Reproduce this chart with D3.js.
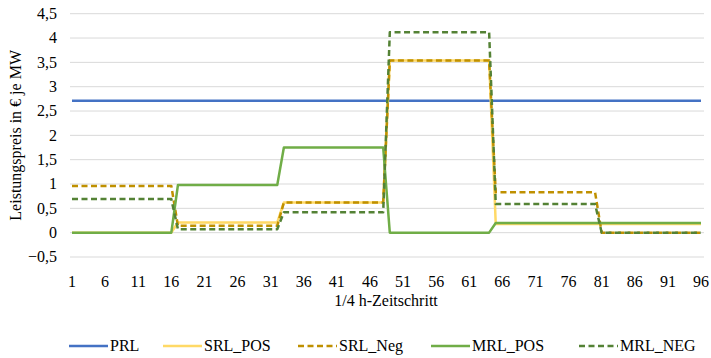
<!DOCTYPE html>
<html>
<head>
<meta charset="utf-8">
<script src="https://cdn.jsdelivr.net/npm/d3@7/dist/d3.min.js"></script>
</head>
<body style="margin:0">
<svg id="chart" width="711" height="358" style="display:block"></svg>
<script>
const categories = [
  1,2,3,4,5,6,7,8,9,10,11,12,13,14,15,16,
  17,18,19,20,21,22,23,24,25,26,27,28,29,30,31,32,
  33,34,35,36,37,38,39,40,41,42,43,44,45,46,47,48,
  49,50,51,52,53,54,55,56,57,58,59,60,61,62,63,64,
  65,66,67,68,69,70,71,72,73,74,75,76,77,78,79,80,
  81,82,83,84,85,86,87,88,89,90,91,92,93,94,95,96
];
const xTickLabels = [1,6,11,16,21,26,31,36,41,46,51,56,61,66,71,76,81,86,91,96];
const yTickValues = [-0.5,0,0.5,1,1.5,2,2.5,3,3.5,4,4.5];

const PRL = [
  2.71,2.71,2.71,2.71,2.71,2.71,2.71,2.71,2.71,2.71,2.71,2.71,2.71,2.71,2.71,2.71,
  2.71,2.71,2.71,2.71,2.71,2.71,2.71,2.71,2.71,2.71,2.71,2.71,2.71,2.71,2.71,2.71,
  2.71,2.71,2.71,2.71,2.71,2.71,2.71,2.71,2.71,2.71,2.71,2.71,2.71,2.71,2.71,2.71,
  2.71,2.71,2.71,2.71,2.71,2.71,2.71,2.71,2.71,2.71,2.71,2.71,2.71,2.71,2.71,2.71,
  2.71,2.71,2.71,2.71,2.71,2.71,2.71,2.71,2.71,2.71,2.71,2.71,2.71,2.71,2.71,2.71,
  2.71,2.71,2.71,2.71,2.71,2.71,2.71,2.71,2.71,2.71,2.71,2.71,2.71,2.71,2.71,2.71
];
const SRL_POS = [
  0,0,0,0,0,0,0,0,0,0,0,0,0,0,0,0,
  0.21,0.21,0.21,0.21,0.21,0.21,0.21,0.21,0.21,0.21,0.21,0.21,0.21,0.21,0.21,0.21,
  0.62,0.62,0.62,0.62,0.62,0.62,0.62,0.62,0.62,0.62,0.62,0.62,0.62,0.62,0.62,0.62,
  3.54,3.54,3.54,3.54,3.54,3.54,3.54,3.54,3.54,3.54,3.54,3.54,3.54,3.54,3.54,3.54,
  0.18,0.18,0.18,0.18,0.18,0.18,0.18,0.18,0.18,0.18,0.18,0.18,0.18,0.18,0.18,0.18,
  0.18,0.18,0.18,0.18,0.18,0.18,0.18,0.18,0.18,0.18,0.18,0.18,0.18,0.18,0.18,0.18
];
const SRL_Neg = [
  0.96,0.96,0.96,0.96,0.96,0.96,0.96,0.96,0.96,0.96,0.96,0.96,0.96,0.96,0.96,0.96,
  0.14,0.14,0.14,0.14,0.14,0.14,0.14,0.14,0.14,0.14,0.14,0.14,0.14,0.14,0.14,0.14,
  0.62,0.62,0.62,0.62,0.62,0.62,0.62,0.62,0.62,0.62,0.62,0.62,0.62,0.62,0.62,0.62,
  3.54,3.54,3.54,3.54,3.54,3.54,3.54,3.54,3.54,3.54,3.54,3.54,3.54,3.54,3.54,3.54,
  0.83,0.83,0.83,0.83,0.83,0.83,0.83,0.83,0.83,0.83,0.83,0.83,0.83,0.83,0.83,0.83,
  0,0,0,0,0,0,0,0,0,0,0,0,0,0,0,0
];
const MRL_POS = [
  0,0,0,0,0,0,0,0,0,0,0,0,0,0,0,0,
  0.98,0.98,0.98,0.98,0.98,0.98,0.98,0.98,0.98,0.98,0.98,0.98,0.98,0.98,0.98,0.98,
  1.75,1.75,1.75,1.75,1.75,1.75,1.75,1.75,1.75,1.75,1.75,1.75,1.75,1.75,1.75,1.75,
  0,0,0,0,0,0,0,0,0,0,0,0,0,0,0,0,
  0.2,0.2,0.2,0.2,0.2,0.2,0.2,0.2,0.2,0.2,0.2,0.2,0.2,0.2,0.2,0.2,
  0.2,0.2,0.2,0.2,0.2,0.2,0.2,0.2,0.2,0.2,0.2,0.2,0.2,0.2,0.2,0.2
];
const MRL_NEG = [
  0.69,0.69,0.69,0.69,0.69,0.69,0.69,0.69,0.69,0.69,0.69,0.69,0.69,0.69,0.69,0.69,
  0.07,0.07,0.07,0.07,0.07,0.07,0.07,0.07,0.07,0.07,0.07,0.07,0.07,0.07,0.07,0.07,
  0.42,0.42,0.42,0.42,0.42,0.42,0.42,0.42,0.42,0.42,0.42,0.42,0.42,0.42,0.42,0.42,
  4.12,4.12,4.12,4.12,4.12,4.12,4.12,4.12,4.12,4.12,4.12,4.12,4.12,4.12,4.12,4.12,
  0.59,0.59,0.59,0.59,0.59,0.59,0.59,0.59,0.59,0.59,0.59,0.59,0.59,0.59,0.59,0.59,
  0,0,0,0,0,0,0,0,0,0,0,0,0,0,0,0
];

const seriesNames = ["PRL","SRL_POS","SRL_Neg","MRL_POS","MRL_NEG"];
const seriesValues = [PRL, SRL_POS, SRL_Neg, MRL_POS, MRL_NEG];
const seriesColors = ["#4472C4","#FFD966","#BF9000","#70AD47","#548235"];
const seriesDash = [null, null, "6,3.5", null, "6,3.5"];

const FONT = '"Liberation Serif", "Times New Roman", Tinos, "DejaVu Serif"';
const svg = d3.select("#chart");
const plot = {left: 70, right: 704, top: 13.7, bottom: 257};

const x = d3.scalePoint().domain(categories).range([72, 701]);
const y = d3.scaleLinear().domain([-0.5, 4.5]).range([plot.bottom, plot.top]);

const fmt = v => d3.format("~g")(v).replace(".", ",");

// gridlines
svg.append("g").selectAll("line").data(yTickValues).join("line")
  .attr("x1", plot.left).attr("x2", plot.right)
  .attr("y1", d => y(d)).attr("y2", d => y(d))
  .attr("stroke", "#d9d9d9").attr("stroke-width", 1);

// y labels
svg.append("g").selectAll("text").data(yTickValues).join("text")
  .attr("class", "lbl")
  .attr("x", 57).attr("y", d => y(d)).attr("dy", "0.33em").attr("text-anchor", "end")
  .text(fmt);

// x labels
svg.append("g").selectAll("text").data(xTickLabels).join("text")
  .attr("class", "lbl")
  .attr("x", d => x(d)).attr("y", 287).attr("text-anchor", "middle")
  .text(d => d);

// series lines
const line = d3.line().x((d, i) => x(categories[i])).y(d => y(d));
seriesValues.forEach((vals, k) => {
  svg.append("path")
    .datum(vals)
    .attr("d", line)
    .attr("fill", "none")
    .attr("stroke", seriesColors[k])
    .attr("stroke-width", 2.5)
    .attr("stroke-dasharray", seriesDash[k])
    .attr("stroke-linejoin", "round");
});

// axis titles
svg.append("text").attr("class", "lbl").attr("x", 386).attr("y", 306).attr("text-anchor", "middle")
  .text("1/4 h-Zeitschritt");
svg.append("text").attr("class", "lbl")
  .attr("transform", `translate(21,${(plot.top + plot.bottom) / 2}) rotate(-90)`)
  .attr("text-anchor", "middle")
  .text("Leistungspreis in € je MW");

// legend (fixed layout positions)
const legendX = [69, 163, 298, 431, 579];
const ly = 346;
seriesNames.forEach((name, k) => {
  const lx = legendX[k];
  svg.append("line").attr("x1", lx).attr("x2", lx + 39).attr("y1", ly).attr("y2", ly)
    .attr("stroke", seriesColors[k]).attr("stroke-width", 2.5)
    .attr("stroke-dasharray", seriesDash[k]);
  svg.append("text").attr("class", "lbl").attr("x", lx + 41).attr("y", ly).attr("dy", "0.33em")
    .text(name);
});

svg.selectAll("text.lbl").attr("font-size", 16).attr("fill", "#000").style("font-family", FONT);
</script>
</body>
</html>
